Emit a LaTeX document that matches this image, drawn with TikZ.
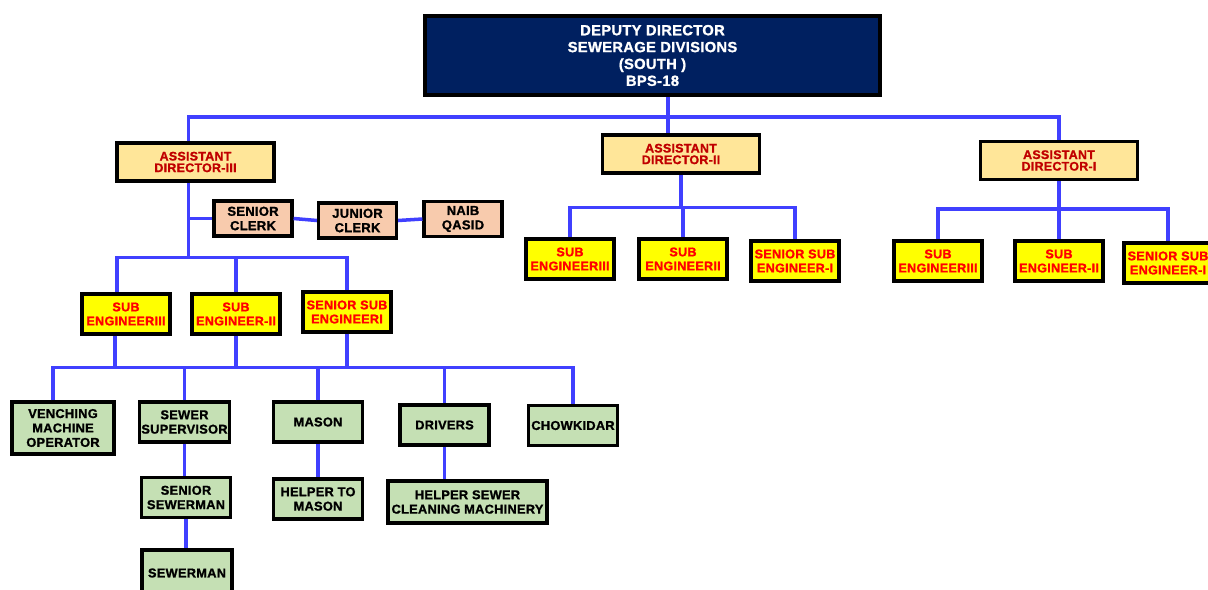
\documentclass[tikz,border=0pt]{standalone}
\usepackage{fontspec}
\setmainfont{Liberation Sans}[BoldFeatures={FakeBold=1.2, LetterSpace=2}]
\usepackage{xcolor}
\usepackage{tikz}
\usetikzlibrary{positioning}

\definecolor{navyfill}{RGB}{0,32,96}
\definecolor{adfill}{RGB}{255,230,153}
\definecolor{adtext}{RGB}{192,0,0}
\definecolor{clerkfill}{RGB}{248,203,173}
\definecolor{engfill}{RGB}{255,255,0}
\definecolor{engtext}{RGB}{255,0,0}
\definecolor{stafffill}{RGB}{197,224,180}
\definecolor{linkblue}{RGB}{64,64,255}

\begin{document}
\begin{tikzpicture}[
    x=0.02cm, y=-0.02cm,
    box/.style={rectangle, draw=black, line width=1.8pt, align=center, inner sep=1pt},
    head/.style={box, fill=navyfill, text=white, minimum width=9.1cm, minimum height=1.58cm, font=\bfseries\fontsize{8.4}{9.6}\selectfont},
    asst/.style={box, fill=adfill, text=adtext, minimum width=3.14cm, minimum height=0.76cm, font=\bfseries\fontsize{7.1}{6.6}\selectfont},
    clerk/.style={box, fill=clerkfill, minimum width=1.56cm, minimum height=0.7cm, font=\bfseries\fontsize{7.4}{8.2}\selectfont},
    eng/.style={box, fill=engfill, text=engtext, minimum width=1.76cm, minimum height=0.8cm, font=\bfseries\fontsize{7.2}{8}\selectfont},
    staff/.style={box, fill=stafffill, minimum width=1.78cm, minimum height=0.8cm, font=\bfseries\fontsize{7.3}{8.2}\selectfont},
    link/.style={draw=linkblue, line width=2pt}
]
\useasboundingbox (0,0) rectangle (1208,589);

% Nodes
\node[head] (dd) at (652.5,55.5) {DEPUTY DIRECTOR\\SEWERAGE DIVISIONS\\(SOUTH )\\BPS-18};

\node[asst] (ad3) at (195.5,162) {ASSISTANT\\DIRECTOR-III};
\node[asst] (ad2) at (681,154) {ASSISTANT\\DIRECTOR-II};
\node[asst] (ad1) at (1059,160.5) {ASSISTANT\\DIRECTOR-I};

\node[clerk] (sclerk) at (253,218.5) {SENIOR\\CLERK};
\node[clerk] (jclerk) at (357.5,220.5) {JUNIOR\\CLERK};
\node[clerk] (nqasid) at (463,219) {NAIB\\QASID};

\node[eng] (se3a) at (126,314) {SUB\\ENGINEERIII};
\node[eng] (se2a) at (236,314) {SUB\\ENGINEER-II};
\node[eng] (sr1a) at (347,312) {SENIOR SUB\\ENGINEERI};

\node[eng] (se3b) at (570,259) {SUB\\ENGINEERIII};
\node[eng] (se2b) at (683,259) {SUB\\ENGINEERII};
\node[eng] (sr1b) at (795,261) {SENIOR SUB\\ENGINEER-I};

\node[eng] (se3c) at (938,261) {SUB\\ENGINEERIII};
\node[eng] (se2c) at (1059,261) {SUB\\ENGINEER-II};
\node[eng] (sr1c) at (1168,263) {SENIOR SUB\\ENGINEER-I};

\node[staff, minimum width=2.04cm, minimum height=1.04cm] (vmo) at (63,428) {VENCHING\\MACHINE\\OPERATOR};
\node[staff] (sup) at (184.5,422) {SEWER\\SUPERVISOR};
\node[staff] (mason) at (318,422) {MASON};
\node[staff] (drivers) at (444.5,425) {DRIVERS};
\node[staff] (chow) at (573,425.5) {CHOWKIDAR};

\node[staff] (hmason) at (318,499) {HELPER TO\\MASON};
\node[staff, minimum width=3.18cm, minimum height=0.84cm] (hscm) at (467.5,502) {HELPER SEWER\\CLEANING MACHINERY};
\node[staff] (ssewer) at (186,497.5) {SENIOR\\SEWERMAN};
\node[staff, minimum width=1.8cm, minimum height=0.92cm] (sewer) at (187,573) {SEWERMAN};

% Edges
\coordinate (mainx) at (668,117);
\draw[link] (dd.south -| mainx) -- (ad2.north -| mainx);
\draw[link] ([xshift=-0.14cm]ad3.north) |- (mainx) -| (ad1.north);

\draw[link] ([xshift=-0.14cm]ad3.south) -- ++(0,75) coordinate (bar3);
\draw[link] (sclerk.west) -- (sclerk.west -| bar3);
\draw[link] (sclerk.east) -- (jclerk.west);
\draw[link] (jclerk.east) -- (nqasid.west);
\draw[link] ([xshift=-0.18cm]se3a.north) |- (bar3) -| (sr1a.north);
\draw[link] (se2a.north) -- (se2a.north |- bar3);

\draw[link] (ad2.south) -- ++(0,33) coordinate (bar2);
\draw[link] (se3b.north) |- (bar2) -| (sr1b.north);
\draw[link] (se2b.north) -- (se2b.north |- bar2);

\draw[link] (ad1.south) -- ++(0,28) coordinate (bar1);
\draw[link] (se3c.north) |- (bar1) -| (sr1c.north);
\draw[link] (se2c.north) -- (se2c.north |- bar1);

\draw[link] ([xshift=-0.22cm]se3a.south) -- ++(0,32) coordinate (bar4);
\draw[link] (se2a.south) -- (se2a.south |- bar4);
\draw[link] (sr1a.south) -- (sr1a.south |- bar4);
\draw[link] ([xshift=-0.2cm]vmo.north) |- (bar4) -| (chow.north);
\foreach \n in {sup, mason, drivers}
  \draw[link] (\n.north) -- (\n.north |- bar4);

\draw[link] (sup.south) -- (sup.south |- ssewer.north);
\draw[link] (ssewer.south) -- (ssewer.south |- sewer.north);
\draw[link] (mason.south) -- (mason.south |- hmason.north);
\draw[link] (drivers.south) -- (drivers.south |- hscm.north);

\end{tikzpicture}
\end{document}
